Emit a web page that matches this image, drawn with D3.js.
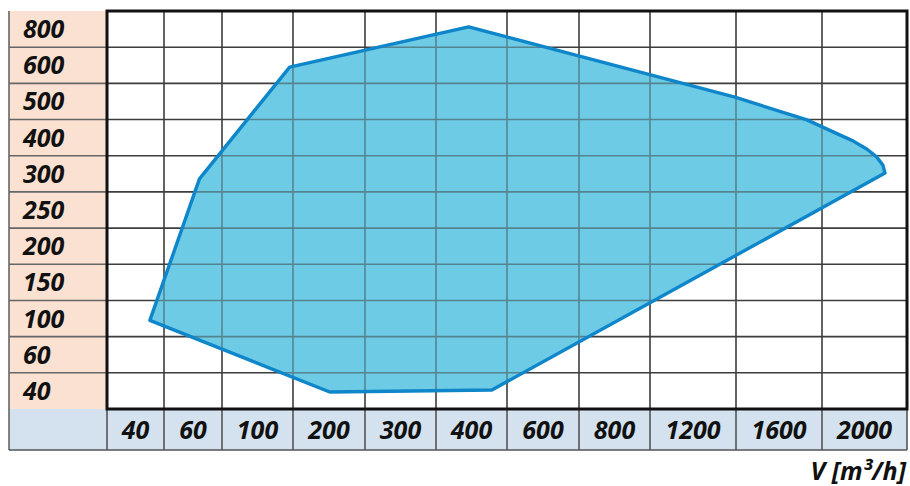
<!DOCTYPE html>
<html>
<head>
<meta charset="utf-8">
<script src="https://cdn.jsdelivr.net/npm/d3@7"></script>
<style>
  html, body { margin: 0; padding: 0; background: #fff; }
  svg { display: block; }
  text { font-family: "Open Sans", "Liberation Sans", sans-serif; font-weight: bold; font-style: italic; fill: #111; }
</style>
</head>
<body>
<svg id="chart" width="910" height="486"></svg>
<script>
// ---- data ----
const xCategories = [40, 60, 100, 200, 300, 400, 600, 800, 1200, 1600, 2000];   // V [m³/h]
const yCategories = [800, 600, 500, 400, 300, 250, 200, 150, 100, 60, 40];       // pressure
// operating-range polygon vertices (V, p)
const rangeV = [45, 64, 145, 396, 1395, 1731, 1853, 1946, 2012, 2058, 2086, 2096, 457, 201];
const rangeP = [98, 293, 595, 812, 512, 449, 416, 391, 368, 346, 324, 302, 40.5, 39.4];
const xTitle = "V [m³/h]";

// ---- layout (not data) ----
const colWeights = [57, 58, 71, 72, 71, 71, 72, 71, 86, 86, 85];
const L = { left: 9, plotLeft: 107, plotRight: 907, top: 11, plotBottom: 409, labelBottom: 450 };

const svg = d3.select("#chart");

const wScale = d3.scaleLinear().domain([0, d3.sum(colWeights)]).range([L.plotLeft, L.plotRight]);
const cum = [0];
colWeights.forEach((w, i) => cum.push(cum[i] + w));
const colEdges = cum.map(c => wScale(c));
const colCenters = xCategories.map((_, i) => (colEdges[i] + colEdges[i + 1]) / 2);

const yBand = d3.scaleBand().domain(yCategories).range([L.top, L.plotBottom]).padding(0);
const rowEdges = yCategories.map(c => yBand(c)).concat([L.plotBottom]);

const xScale = d3.scaleLinear().domain(xCategories).range(colCenters);
const yScale = d3.scaleLinear().domain(yCategories).range(yCategories.map(c => yBand(c) + yBand.bandwidth() / 2));

svg.append("rect").attr("x", L.left).attr("y", L.top).attr("width", L.plotLeft - L.left)
  .attr("height", L.plotBottom - L.top).attr("fill", "#fbe1d1");
svg.append("rect").attr("x", L.left).attr("y", L.plotBottom).attr("width", L.plotRight - L.left)
  .attr("height", L.labelBottom - L.plotBottom).attr("fill", "#d3e2ee");

const pts = rangeV.map((v, i) => [xScale(v), yScale(rangeP[i])]);
const line = d3.line().curve(d3.curveLinearClosed);
const fillColor = "#6dcbe6";
svg.append("path").attr("d", line(pts)).attr("fill", fillColor);

const grid = svg.append("g").attr("stroke-width", 1.6);
rowEdges.slice(1, -1).forEach(y => {
  grid.append("line").attr("x1", L.left).attr("x2", L.plotLeft).attr("y1", y).attr("y2", y).attr("stroke", "#666");
  grid.append("line").attr("x1", L.plotLeft).attr("x2", L.plotRight).attr("y1", y).attr("y2", y).attr("stroke", "#3d3d3d");
});
colEdges.slice(1, -1).forEach(x => {
  grid.append("line").attr("x1", x).attr("x2", x).attr("y1", L.top).attr("y2", L.plotBottom).attr("stroke", "#3d3d3d");
  grid.append("line").attr("x1", x).attr("x2", x).attr("y1", L.plotBottom).attr("y2", L.labelBottom).attr("stroke", "#555");
});
grid.append("line").attr("x1", L.left).attr("x2", L.left).attr("y1", L.top).attr("y2", L.labelBottom).attr("stroke", "#666");
grid.append("line").attr("x1", L.left).attr("x2", L.plotRight).attr("y1", L.labelBottom).attr("y2", L.labelBottom).attr("stroke", "#555");
grid.append("line").attr("x1", L.plotLeft).attr("x2", L.plotLeft).attr("y1", L.plotBottom).attr("y2", L.labelBottom).attr("stroke", "#555");
grid.append("line").attr("x1", L.plotRight).attr("x2", L.plotRight).attr("y1", L.plotBottom).attr("y2", L.labelBottom).attr("stroke", "#555");

// translucent overlay so grid inside the range looks teal
svg.append("path").attr("d", line(pts)).attr("fill", "#2aa9c9").attr("fill-opacity", 0.0);
svg.append("path").attr("d", line(pts)).attr("fill", fillColor).attr("fill-opacity", 0.5);

svg.append("rect").attr("x", L.plotLeft).attr("y", L.top).attr("width", L.plotRight - L.plotLeft)
  .attr("height", L.plotBottom - L.top).attr("fill", "none").attr("stroke", "#111").attr("stroke-width", 3);

svg.append("path").attr("d", line(pts)).attr("fill", "none").attr("stroke", "#0e86c9")
  .attr("stroke-width", 3.4).attr("stroke-linejoin", "round");

svg.append("g").selectAll("text").data(yCategories).join("text")
  .attr("x", 23).attr("y", d => yBand(d) + yBand.bandwidth() / 2 + 9)
  .attr("font-size", 25).text(d => d);

svg.append("g").selectAll("text").data(xCategories).join("text")
  .attr("x", (d, i) => colCenters[i]).attr("y", (L.plotBottom + L.labelBottom) / 2 + 9)
  .attr("text-anchor", "middle").attr("font-size", 25).text(d => d);

svg.append("text").attr("x", 906).attr("y", 480).attr("text-anchor", "end")
  .attr("font-size", 25).text(xTitle);
</script>
</body>
</html>
